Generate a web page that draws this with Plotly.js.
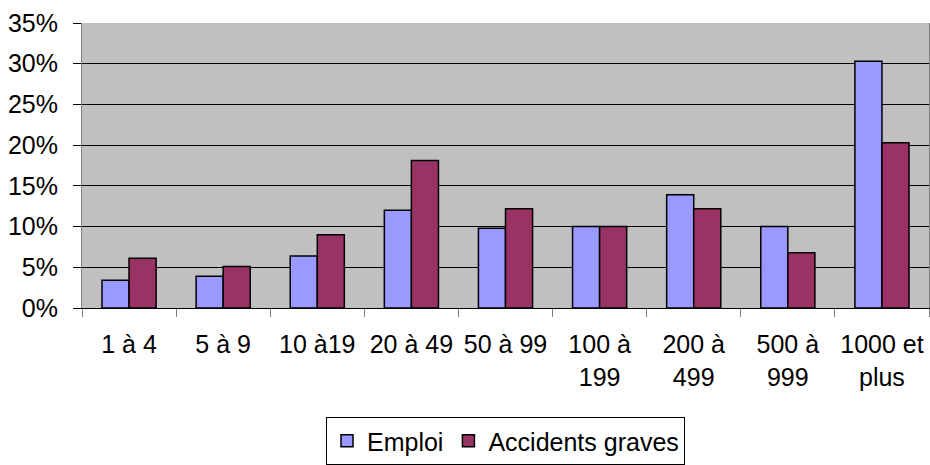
<!DOCTYPE html>
<html>
<head>
<meta charset="utf-8">
<script src="https://cdn.plot.ly/plotly-3.0.1.min.js"></script>
<style>
  html, body { margin: 0; padding: 0; background: #fff; }
  #chart { width: 930px; height: 465px; }
</style>
</head>
<body>
<div id="chart"></div>
<script>
// size classes (number of employees)
const categories = ["1 à 4", "5 à 9", "10 à19", "20 à 49", "50 à 99",
    "100 à<br>199", "200 à<br>499", "500 à<br>999", "1000 et<br>plus"];

// shares in percent
const emploi = [3.4, 3.9, 6.4, 12.0, 9.8, 10.0, 13.9, 10.0, 30.3];
const accidents = [6.1, 5.1, 9.0, 18.1, 12.2, 10.0, 12.2, 6.8, 20.3];

const font = { family: "Liberation Sans, Arial, sans-serif", size: 25, color: "#000" };

const traces = [
    {
        name: "Emploi",
        x: categories,
        y: emploi,
        type: "bar",
        marker: { color: "#9999FF", line: { color: "#000", width: 1.5 } },
    },
    {
        name: "Accidents graves",
        x: categories,
        y: accidents,
        type: "bar",
        marker: { color: "#993366", line: { color: "#000", width: 1.5 } },
    },
];

const layout = {
    width: 930,
    height: 465,
    margin: { l: 82, r: 1, t: 23, b: 156 },
    paper_bgcolor: "#fff",
    plot_bgcolor: "#C0C0C0",
    font: font,
    barmode: "group",
    bargap: 0.425,
    bargroupgap: 0,
    showlegend: true,
    legend: {
        orientation: "h",
        x: 0.5,
        xanchor: "center",
        y: -0.38,
        yanchor: "top",
        bordercolor: "#000",
        borderwidth: 1,
        font: font,
        itemwidth: 30,
        traceorder: "normal",
    },
    xaxis: {
        type: "category",
        tickson: "boundaries",
        ticks: "outside",
        ticklen: 8,
        tickcolor: "#808080",
        tickangle: 0,
        showline: true,
        linecolor: "#000",
        linewidth: 1,
        mirror: false,
        showgrid: false,
        ticklabelstandoff: 14,
    },
    yaxis: {
        range: [0, 35],
        dtick: 5,
        ticksuffix: "%",
        ticks: "outside",
        ticklen: 8,
        tickcolor: "#000",
        showline: true,
        linecolor: "#808080",
        linewidth: 1,
        mirror: true,
        showgrid: true,
        gridcolor: "#000",
        gridwidth: 1,
        zeroline: false,
        ticklabelstandoff: 10,
    },
};

Plotly.newPlot("chart", traces, layout, { displayModeBar: false, staticPlot: true });
</script>
</body>
</html>
